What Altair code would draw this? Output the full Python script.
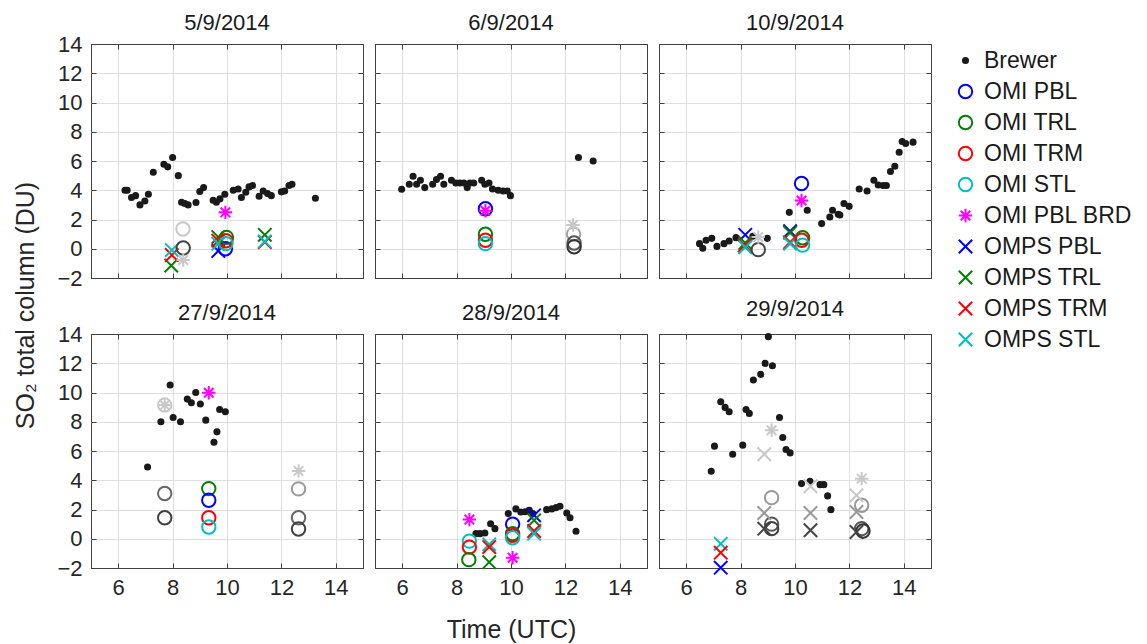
import altair as alt
import pandas as pd

FONT = "Liberation Sans"
DATES = ["5/9/2014", "6/9/2014", "10/9/2014", "27/9/2014", "28/9/2014", "29/9/2014"]
XTICKS = [6, 8, 10, 12, 14]
YTICKS = [-2, 0, 2, 4, 6, 8, 10, 12, 14]

SERIES = ["Brewer", "OMI PBL", "OMI TRL", "OMI TRM", "OMI STL", "OMI PBL BRD",
          "OMPS PBL", "OMPS TRL", "OMPS TRM", "OMPS STL"]
STROKES = ["#1a1a1a", "#0000ff", "#008000", "#ff0000", "#00bfbf", "#ff00ff",
           "#0000ff", "#008000", "#ff0000", "#00bfbf"]
FILLS = ["#1a1a1a"] + ["transparent"] * 9
DOT = "M0.38,0A0.38,0.38,0,1,1,-0.38,0A0.38,0.38,0,1,1,0.38,0Z"
XS = "M-1,-1L1,1M-1,1L1,-1"
AST = "M0,-1L0,1M-1,0L1,0M-0.71,-0.71L0.71,0.71M-0.71,0.71L0.71,-0.71"
SHAPES = [DOT] + ["circle"] * 4 + [AST] + [XS] * 4

# Brewer measurements per day
brewer_t = [
    [6.25, 6.33, 6.49, 6.64, 6.80, 6.98, 7.11, 7.29, 7.68, 7.82, 8.00, 8.21, 8.33, 8.45, 8.57,
     8.86, 9.00, 9.14, 9.49, 9.61, 9.74, 9.92, 10.23, 10.41, 10.53, 10.69, 10.81, 10.94, 11.18,
     11.33, 11.49, 11.63, 12.00, 12.12, 12.28, 12.39, 13.25],
    [5.98, 6.26, 6.40, 6.53, 6.67, 6.83, 7.12, 7.26, 7.41, 7.53, 7.81, 7.97, 8.12, 8.27, 8.39,
     8.49, 8.63, 8.92, 9.04, 9.19, 9.32, 9.53, 9.71, 9.86, 9.98, 12.48, 13.02],
    [6.49, 6.61, 6.73, 6.94, 7.13, 7.39, 7.58, 7.83, 8.45, 8.98, 9.79, 10.45, 10.98, 11.28, 11.38,
     11.59, 11.65, 11.80, 11.99, 12.36, 12.65, 12.90, 13.06, 13.24, 13.36, 13.51, 13.67, 13.83,
     13.94, 14.07, 14.34],
    [7.08, 7.57, 7.91, 8.02, 8.29, 8.54, 8.69, 8.85, 9.02, 9.22, 9.52, 9.63, 9.73, 9.94],
    [8.71, 8.86, 9.04, 9.25, 9.41, 9.90, 10.18, 10.36, 10.52, 10.67, 10.80, 11.31, 11.50, 11.66,
     11.80, 12.05, 12.17, 12.39],
    [6.92, 7.04, 7.27, 7.43, 7.58, 7.71, 8.08, 8.20, 8.32, 8.47, 8.74, 8.90, 9.02, 9.17, 9.43,
     9.55, 9.67, 9.82, 10.24, 10.55, 10.92, 11.06, 11.20, 11.32],
]
brewer_v = [
    [4.0, 4.0, 3.5, 3.63, 3.0, 3.27, 3.73, 5.23, 5.78, 5.6, 6.24, 5.0, 3.18, 3.09, 3.0,
     3.16, 3.91, 4.18, 3.32, 3.18, 3.41, 3.73, 4.0, 4.09, 3.5, 3.86, 4.23, 4.32, 3.59,
     3.95, 3.77, 3.63, 3.89, 3.95, 4.32, 4.41, 3.45],
    [4.07, 4.41, 4.96, 4.41, 4.68, 4.18, 4.41, 4.73, 4.96, 4.41, 4.68, 4.5, 4.5, 4.5, 4.18,
     4.5, 4.5, 4.68, 4.41, 4.5, 4.09, 4.0, 3.95, 3.95, 3.63, 6.24, 6.0],
    [0.35, 0.03, 0.58, 0.71, 0.16, 0.35, 0.53, 0.76, 0.85, 0.71, 2.49, 2.63, 1.72, 2.17, 2.63,
     2.36, 2.31, 3.09, 2.9, 4.09, 3.95, 4.68, 4.36, 4.32, 4.32, 5.28, 5.64, 6.6,
     7.33, 7.2, 7.29],
    [4.91, 8.0, 10.51, 8.29, 8.0, 9.55, 9.3, 10.0, 9.21, 8.11, 6.6, 7.31, 8.84, 8.68],
    [0.35, 0.35, 0.39, 1.03, 0.69, 1.72, 2.04, 1.83, 1.85, 1.95, 1.72, 1.99, 2.04, 2.13,
     2.22, 1.76, 1.44, 0.51],
    [4.62, 6.33, 9.37, 8.98, 8.68, 5.78, 6.40, 8.84, 8.57, 10.85, 11.24, 11.99, 13.82, 11.83, 8.29,
     6.92, 6.1, 5.87, 3.77, 3.93, 3.70, 3.70, 2.93, 1.99],
]

# Satellite retrievals: (series, time, value) per day
sat = [
    [("OMPS TRL", 7.95, -1.15), ("OMPS TRM", 7.97, -0.43), ("OMPS STL", 7.97, -0.09),
     ("OMPS PBL", 9.68, -0.15), ("OMPS TRL", 9.68, 0.8), ("OMPS TRM", 9.68, 0.55), ("OMPS STL", 9.68, 0.35),
     ("OMI PBL", 9.94, 0.0), ("OMI TRL", 9.98, 0.78), ("OMI TRM", 9.96, 0.55), ("OMI STL", 9.96, 0.35),
     ("OMI PBL BRD", 9.94, 2.49),
     ("OMPS TRL", 11.39, 0.95), ("OMPS TRM", 11.39, 0.45), ("OMPS STL", 11.39, 0.5)],
    [("OMI PBL", 9.06, 2.74), ("OMI TRL", 9.06, 0.99), ("OMI TRM", 9.06, 0.58), ("OMI STL", 9.06, 0.35),
     ("OMI PBL BRD", 9.06, 2.6)],
    [("OMPS PBL", 8.17, 0.95), ("OMPS TRL", 8.17, 0.4), ("OMPS TRM", 8.15, 0.23), ("OMPS STL", 8.17, 0.1),
     ("OMPS PBL", 9.82, 1.2), ("OMPS TRL", 9.82, 1.1), ("OMPS TRM", 9.82, 0.45), ("OMPS STL", 9.82, 0.35),
     ("OMI PBL", 10.24, 4.46), ("OMI TRL", 10.28, 0.75), ("OMI TRM", 10.25, 0.58), ("OMI STL", 10.28, 0.25),
     ("OMI PBL BRD", 10.24, 3.3)],
    [("OMI TRL", 9.33, 3.43), ("OMI PBL", 9.33, 2.63), ("OMI TRM", 9.33, 1.44), ("OMI STL", 9.33, 0.8),
     ("OMI PBL BRD", 9.33, 9.98)],
    [("OMI PBL BRD", 8.47, 1.31), ("OMI STL", 8.47, -0.16), ("OMI TRM", 8.47, -0.57), ("OMI TRL", 8.45, -1.43),
     ("OMPS STL", 9.2, -0.38), ("OMPS TRM", 9.2, -0.57), ("OMPS TRL", 9.2, -1.6),
     ("OMI PBL", 10.06, 0.99), ("OMI TRL", 10.06, 0.35), ("OMI TRM", 10.06, 0.23), ("OMI STL", 10.06, 0.07),
     ("OMI PBL BRD", 10.06, -1.3),
     ("OMPS PBL", 10.85, 1.6), ("OMPS TRL", 10.85, 1.26), ("OMPS TRM", 10.85, 0.53), ("OMPS STL", 10.85, 0.35)],
    [("OMPS STL", 7.27, -0.35), ("OMPS TRM", 7.27, -0.95), ("OMPS PBL", 7.27, -1.98)],
]

# Grey (unlabelled) markers: (kind, colour, time, value) per day
grey = [
    [("o", "#c8c8c8", 8.38, 1.35), ("o", "#444444", 8.39, 0.05), ("*", "#c8c8c8", 8.39, -0.77)],
    [("*", "#c8c8c8", 12.28, 1.62), ("o", "#a0a0a0", 12.3, 1.0), ("o", "#555555", 12.32, 0.39),
     ("o", "#333333", 12.32, 0.14)],
    [("*", "#c8c8c8", 8.65, 0.8), ("o", "#444444", 8.65, -0.06)],
    [("o", "#c8c8c8", 7.71, 9.14), ("*", "#c8c8c8", 7.71, 9.14), ("o", "#666666", 7.71, 3.09),
     ("o", "#404040", 7.71, 1.44), ("*", "#c8c8c8", 12.63, 4.64), ("o", "#999999", 12.63, 3.41),
     ("o", "#666666", 12.63, 1.44), ("o", "#404040", 12.63, 0.67)],
    [],
    [("*", "#c8c8c8", 9.14, 7.42), ("x", "#c8c8c8", 8.87, 5.78), ("o", "#999999", 9.14, 2.81),
     ("x", "#999999", 8.87, 1.76), ("o", "#555555", 9.14, 1.0), ("x", "#444444", 8.87, 0.69),
     ("o", "#404040", 9.14, 0.69), ("x", "#c8c8c8", 10.57, 3.59), ("x", "#999999", 10.57, 1.76),
     ("x", "#444444", 10.57, 0.58), ("*", "#c8c8c8", 12.45, 4.11), ("x", "#c8c8c8", 12.26, 2.97),
     ("o", "#999999", 12.45, 2.29), ("x", "#999999", 12.26, 1.83), ("o", "#555555", 12.45, 0.69),
     ("x", "#444444", 12.26, 0.46), ("o", "#333333", 12.5, 0.53)],
]

KIND_SHAPE = {"o": "circle", "x": XS, "*": AST}
MSIZE = 180
FRAME = "#404040"
GRID = "#dfdfdf"
TICK = 5


def panel(i):
    r, c = divmod(i, 3)
    rows = [{"series": "Brewer", "t": t, "v": v} for t, v in zip(brewer_t[i], brewer_v[i])]
    rows += [{"series": s, "t": t, "v": v} for s, t, v in sat[i]]
    for k, row in enumerate(rows):
        row["k"] = k
    df = pd.DataFrame(rows)

    xscale = alt.Scale(domain=[5, 15], nice=False, zero=False)
    yscale = alt.Scale(domain=[-2, 14], nice=False, zero=False)

    # bottom / left axes: inward ticks (axis pulled inside by its tick length)
    xkw = dict(values=XTICKS, grid=True, labels=(r == 1), titlePadding=19, orient="bottom",
               ticks=True, tickSize=TICK, offset=-TICK, tickColor=FRAME)
    if r == 1 and c == 1:
        xkw["title"] = "Time (UTC)"
    else:
        xkw["title"] = None
    ykw = dict(values=YTICKS, grid=True, labels=(c == 0), titlePadding=18, orient="left",
               ticks=True, tickSize=TICK, offset=-TICK, tickColor=FRAME,
               gridColor={"condition": {"test": "datum.value === -2 || datum.value === 14",
                                        "value": FRAME}, "value": GRID})
    if r == 0 and c == 0:
        ykw["title"] = "SO\u2082 total column (DU)"
        ykw["titleY"] = 261
    else:
        ykw["title"] = None

    xenc = alt.X("t:Q", scale=xscale, axis=alt.Axis(**xkw))
    yenc = alt.Y("v:Q", scale=yscale, axis=alt.Axis(**ykw))

    main = alt.Chart(df).mark_point(filled=False, opacity=1, strokeWidth=2, size=MSIZE).encode(
        x=xenc,
        y=yenc,
        stroke=alt.Stroke("series:N", scale=alt.Scale(domain=SERIES, range=STROKES),
                          legend=alt.Legend(title=None)),
        fill=alt.Fill("series:N", scale=alt.Scale(domain=SERIES, range=FILLS),
                      legend=alt.Legend(title=None)),
        shape=alt.Shape("series:N", scale=alt.Scale(domain=SERIES, range=SHAPES),
                        legend=alt.Legend(title=None)),
        order=alt.Order("k:Q"),
    )
    # top / right axes carrying only the inward ticks of the box
    box = alt.Chart(df).mark_point(opacity=0).encode(
        x=alt.X("t:Q", scale=xscale,
                axis=alt.Axis(orient="top", values=XTICKS, grid=False, labels=False, title=None,
                              ticks=True, tickSize=TICK, offset=-TICK, tickColor=FRAME)),
        y=alt.Y("v:Q", scale=yscale,
                axis=alt.Axis(orient="right", values=YTICKS, grid=False, labels=False, title=None,
                              ticks=True, tickSize=TICK, offset=-TICK, tickColor=FRAME)),
    )
    layers = [main]
    g = pd.DataFrame([{"kind": k, "col": col, "t": t, "v": v} for k, col, t, v in grey[i]])
    for kind in ["o", "x", "*"]:
        if len(g) and (g["kind"] == kind).any():
            sub = g[g["kind"] == kind]
            layers.append(
                alt.Chart(sub).mark_point(filled=False, opacity=1, strokeWidth=2, size=MSIZE,
                                          shape=KIND_SHAPE[kind]).encode(
                    x=alt.X("t:Q", scale=xscale, axis=None),
                    y=alt.Y("v:Q", scale=yscale, axis=None),
                    color=alt.Color("col:N", scale=None)
                )
            )
    layers.append(box)
    # left-column panels carry tick labels that reach above the frame; compensate the title gap
    toff = -2 if c == 0 else 9
    return alt.layer(*layers).resolve_axis(x="independent", y="independent").properties(
        width=272, height=234,
        title=alt.TitleParams(DATES[i], fontSize=22, fontWeight="normal", font=FONT,
                              color="#1a1a1a", offset=toff, frame="group"),
    )


chart = alt.concat(*[panel(i) for i in range(6)], columns=3,
                   spacing={"row": 56, "column": 12}, bounds="flush").properties(
    padding={"left": 5, "top": 3, "right": 0, "bottom": 0}
).configure_view(
    stroke=FRAME, strokeWidth=1
).configure_axis(
    domain=False, gridColor=GRID, gridWidth=1,
    labelFont=FONT, labelFontSize=22, labelColor="#262626", labelPadding=9,
    titleFont=FONT, titleFontSize=25, titleFontWeight="normal", titleColor="#262626",
).configure_legend(
    labelFont=FONT, labelFontSize=23, labelColor="#1a1a1a", symbolSize=MSIZE,
    symbolStrokeWidth=2, rowPadding=7, offset=17, labelOffset=7, padding=5,
    labelLimit=400,
)

chart.save("out.html", embed_options={"renderer": "svg", "actions": False})
